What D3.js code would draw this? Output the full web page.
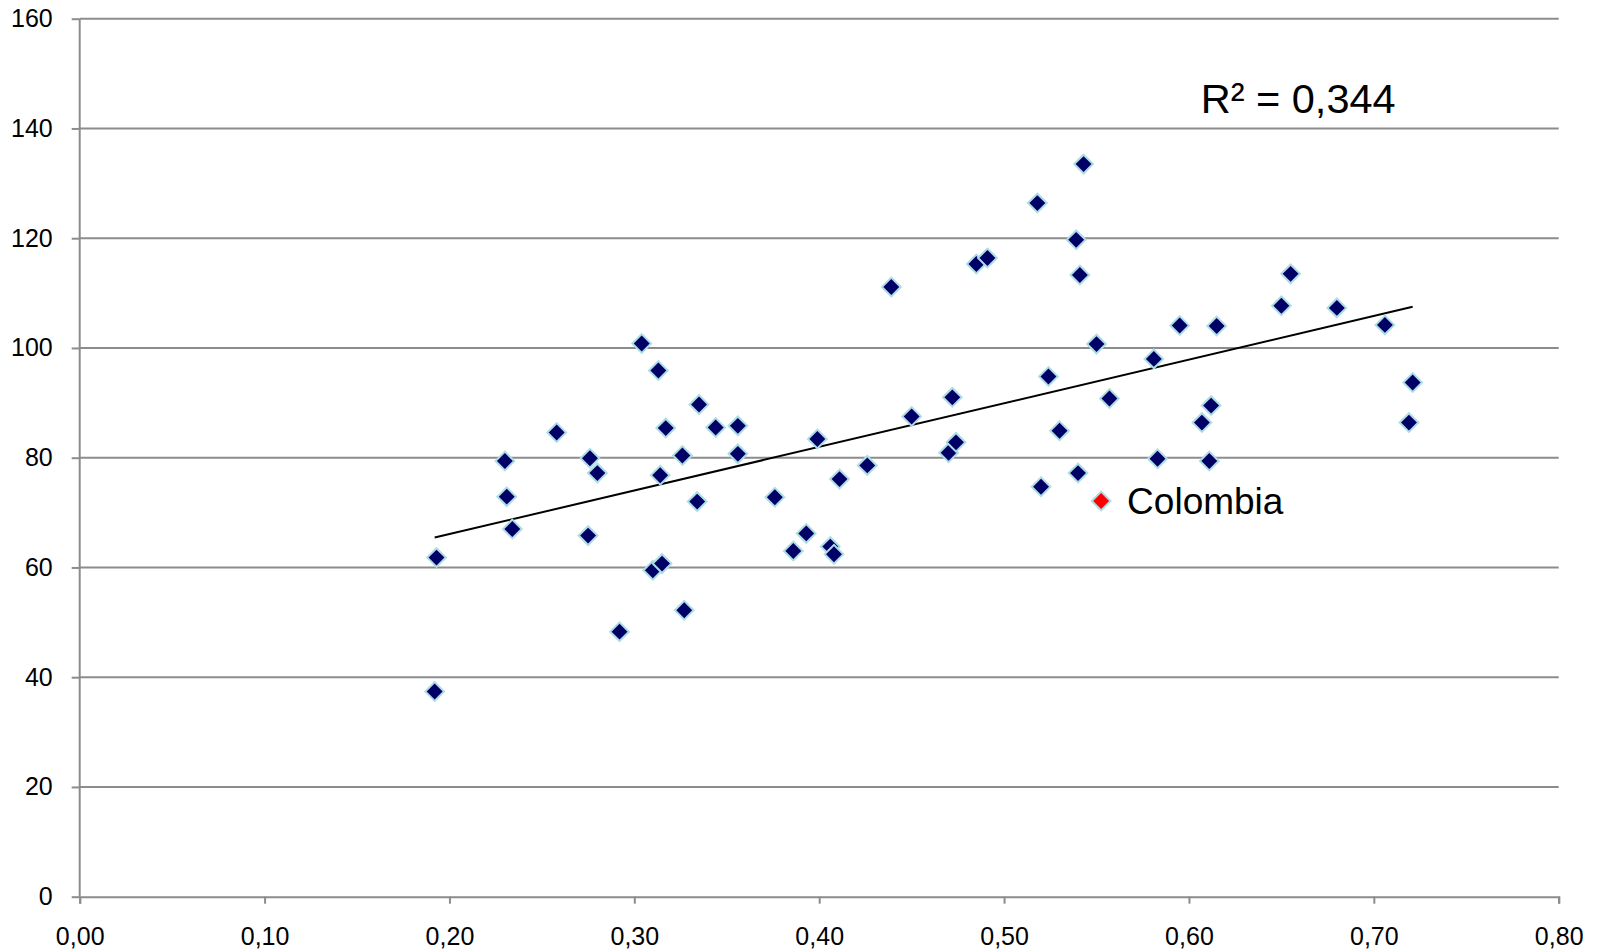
<!DOCTYPE html>
<html>
<head>
<meta charset="utf-8">
<script src="https://cdn.jsdelivr.net/npm/d3@7"></script>
<style>
  body { margin: 0; background: #fff; }
  #chart text { font-family: "Liberation Sans", Arial, sans-serif; fill: #000; }
</style>
</head>
<body>
<div id="chart"></div>
<script>
// Scatter values
var xValues = [0.193, 0.192, 0.230, 0.231, 0.234, 0.258, 0.276, 0.280, 0.275, 0.292,
               0.304, 0.313, 0.317, 0.314, 0.326, 0.310, 0.315, 0.327, 0.335, 0.334,
               0.344, 0.356, 0.356, 0.376, 0.386, 0.393, 0.399, 0.406, 0.408, 0.411,
               0.426, 0.439, 0.450, 0.472, 0.470, 0.474, 0.485, 0.491, 0.518, 0.543,
               0.539, 0.541, 0.550, 0.524, 0.530, 0.557, 0.520, 0.540, 0.581, 0.583,
               0.595, 0.615, 0.607, 0.612, 0.611, 0.650, 0.655, 0.680, 0.706, 0.721,
               0.719];
var yValues = [61.8, 37.4, 79.4, 72.9, 67.0, 84.6, 79.9, 77.2, 65.8, 48.3,
               100.8, 95.9, 85.4, 76.8, 80.4, 59.5, 60.7, 52.2, 89.7, 72.0,
               85.5, 85.8, 80.7, 72.8, 63.0, 66.2, 83.4, 63.8, 62.4, 76.1,
               78.6, 111.1, 87.5, 91.0, 80.9, 82.8, 115.3, 116.4, 126.4, 133.5,
               119.7, 113.3, 100.7, 94.8, 84.9, 90.8, 74.7, 77.2, 98.0, 79.8,
               104.1, 104.0, 86.4, 89.5, 79.4, 107.7, 113.5, 107.3, 104.2, 93.7,
               86.4];

// Highlighted country
var highlightName = "Colombia";
var highlightX = 0.5525;
var highlightY = 72.1;

var xTicks = [0, 0.1, 0.2, 0.3, 0.4, 0.5, 0.6, 0.7, 0.8];
var yTicks = [0, 20, 40, 60, 80, 100, 120, 140, 160];
var r2Label = "R² = 0,344";

var margin = { top: 18.7, right: 38.3, bottom: 55.3, left: 79.7 },
    width = 1597 - margin.left - margin.right,
    height = 952 - margin.top - margin.bottom;

var svg = d3.select("#chart")
  .append("svg")
    .attr("width", width + margin.left + margin.right)
    .attr("height", height + margin.top + margin.bottom)
  .append("g")
    .attr("transform", "translate(" + margin.left + "," + margin.top + ")");

var x = d3.scaleLinear().domain([0, 0.8]).range([0, width]);
var y = d3.scaleLinear().domain([0, 160]).range([height, 0]);

var gridColor = "#8c8c8c";

// Horizontal gridlines
svg.append("g")
  .selectAll("line")
  .data(yTicks.filter(function (d) { return d > 0; }))
  .enter().append("line")
    .attr("x1", 0)
    .attr("x2", width)
    .attr("y1", function (d) { return y(d); })
    .attr("y2", function (d) { return y(d); })
    .attr("stroke", gridColor)
    .attr("stroke-width", 2);

// Y axis
var yAxis = svg.append("g")
  .call(d3.axisLeft(y).tickValues(yTicks).tickSize(8).tickPadding(19)
    .tickFormat(d3.format("d")));

// X axis
var xAxis = svg.append("g")
  .attr("transform", "translate(0," + height + ")")
  .call(d3.axisBottom(x).tickValues(xTicks).tickSize(7).tickPadding(24).tickSizeOuter(7)
    .tickFormat(function (d) { return d3.format(".2f")(d).replace(".", ","); }));

[yAxis, xAxis].forEach(function (a) {
  a.selectAll("path, line").attr("stroke", gridColor).attr("stroke-width", 2);
  a.selectAll("text").style("font-size", "25px");
});
yAxis.select(".domain").attr("d", "M0," + y(0) + "V" + y(160));

// Linear trend line (least squares over all points)
var allX = xValues.concat([highlightX]);
var allY = yValues.concat([highlightY]);
var mx = d3.mean(allX), my = d3.mean(allY);
var sxy = d3.sum(allX, function (v, i) { return (v - mx) * (allY[i] - my); });
var sxx = d3.sum(allX, function (v) { return (v - mx) * (v - mx); });
var slope = sxy / sxx, intercept = my - slope * mx;
var xMin = d3.min(allX), xMax = d3.max(allX);

svg.append("line")
    .attr("x1", x(xMin))
    .attr("y1", y(intercept + slope * xMin))
    .attr("x2", x(xMax))
    .attr("y2", y(intercept + slope * xMax))
    .attr("stroke", "#000")
    .attr("stroke-width", 2);

// Diamond markers
var diamond = d3.symbol().type(d3.symbolSquare).size(175);

svg.append("g")
  .selectAll("path")
  .data(xValues.map(function (v, i) { return [v, yValues[i]]; }))
  .enter().append("path")
    .attr("d", diamond)
    .attr("transform", function (d) { return "translate(" + x(d[0]) + "," + y(d[1]) + ") rotate(45)"; })
    .attr("fill", "#000066")
    .attr("stroke", "#aedce4")
    .attr("stroke-width", 2);

svg.append("path")
    .attr("d", diamond)
    .attr("transform", "translate(" + x(highlightX) + "," + y(highlightY) + ") rotate(45)")
    .attr("fill", "#ff0000")
    .attr("stroke", "#aedce4")
    .attr("stroke-width", 2);

svg.append("text")
    .attr("x", x(highlightX) + 26)
    .attr("y", y(highlightY) + 13)
    .style("font-size", "37px")
    .text(highlightName);

svg.append("text")
    .attr("x", 1121)
    .attr("y", 94)
    .style("font-size", "41.5px")
    .text(r2Label);
</script>
</body>
</html>
